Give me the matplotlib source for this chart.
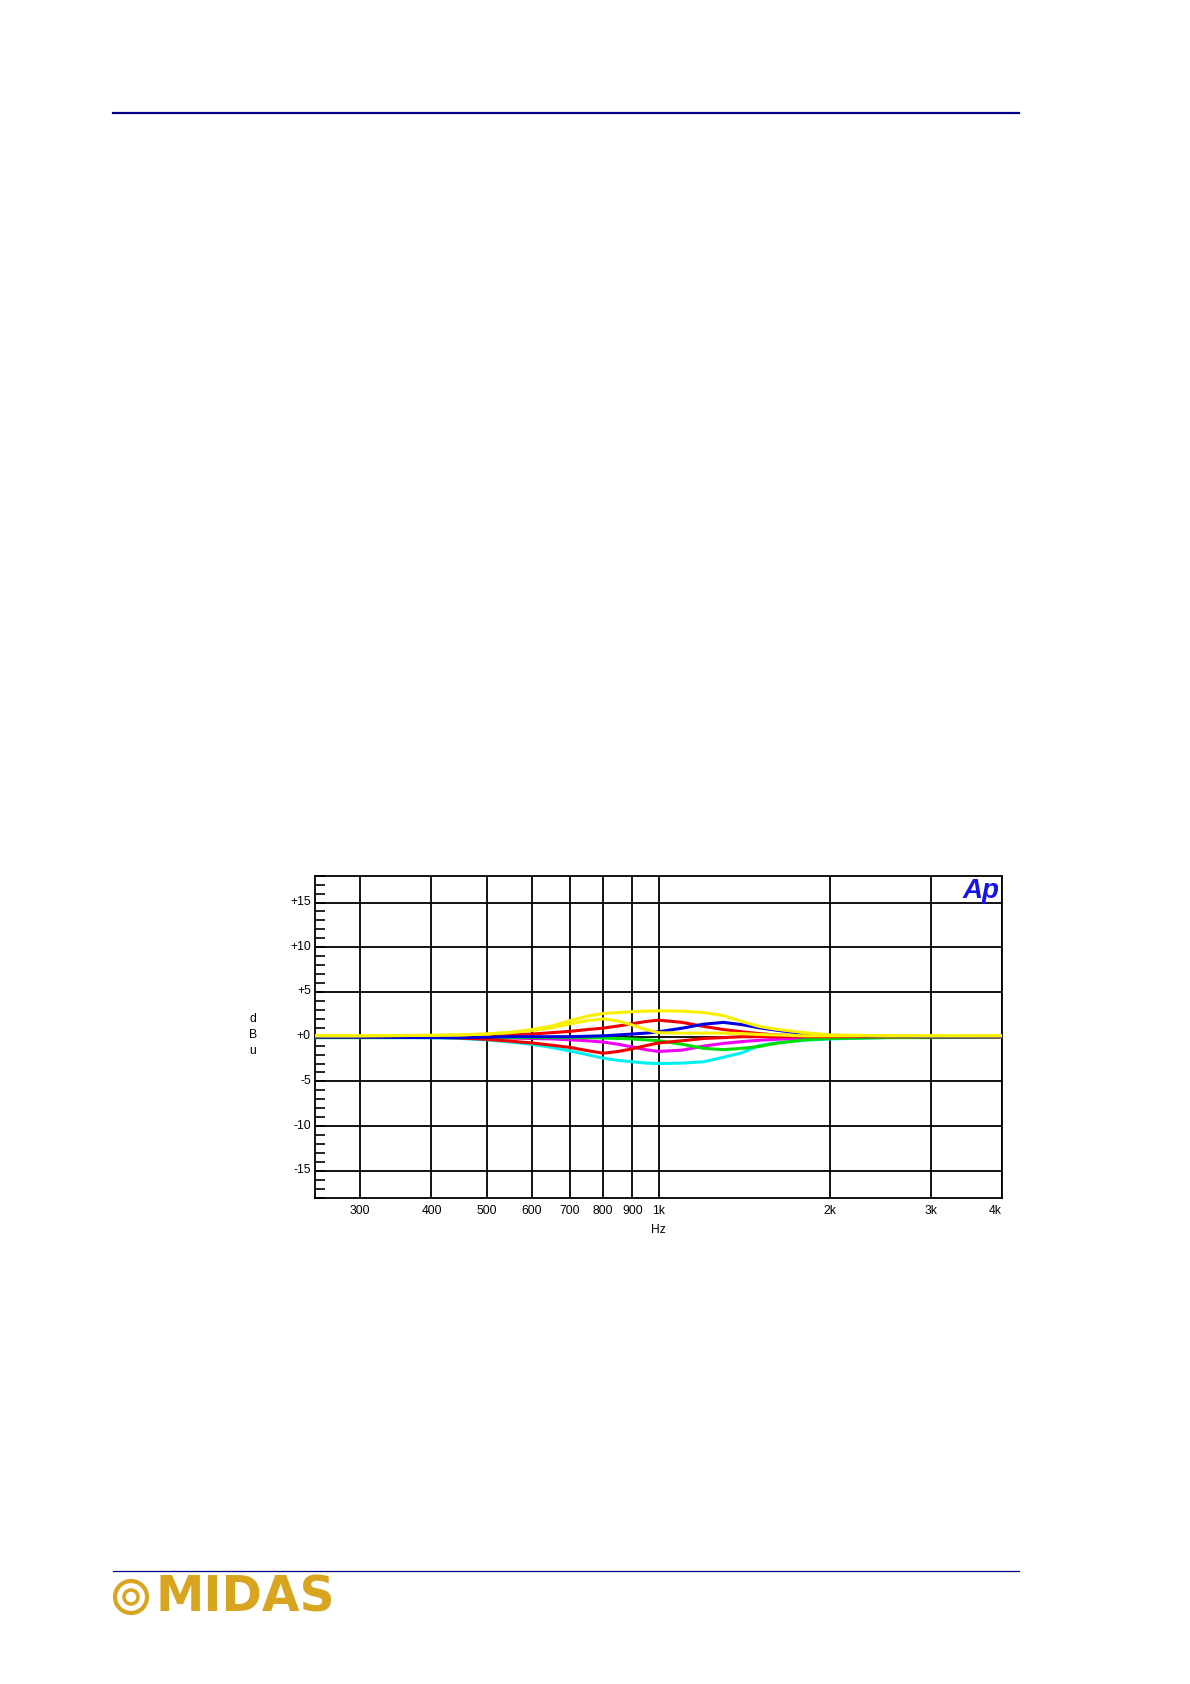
import matplotlib
matplotlib.use('Agg')
import matplotlib.pyplot as plt
import matplotlib.transforms as mtransforms
from matplotlib.ticker import MultipleLocator, NullLocator
from matplotlib.patches import Ellipse

plt.rcParams['font.family'] = ['Liberation Sans', 'DejaVu Sans']

# frequency points (Hz)
freq = [250, 300, 400, 450, 500, 550, 600, 650, 700, 750, 800, 850, 900, 950,
        1000, 1100, 1200, 1300, 1400, 1500, 1600, 1800, 2000, 2500, 3000, 4000]

# level in dBu for each curve
yellow_a = [0.1, 0.1, 0.15, 0.2, 0.3, 0.5, 0.8, 1.2, 1.8, 2.3, 2.6, 2.7, 2.8, 2.85,
            2.9, 2.85, 2.7, 2.35, 1.7, 1.15, 0.85, 0.45, 0.2, 0.1, 0.1, 0.1]
yellow_b = [0.1, 0.1, 0.15, 0.2, 0.3, 0.45, 0.7, 1.0, 1.45, 1.8, 2.0, 1.75, 1.3, 0.8,
            0.45, 0.4, 0.4, 0.4, 0.35, 0.25, 0.2, 0.1, 0.1, 0.1, 0.1, 0.1]
red_a = [0.0, 0.0, 0.0, 0.05, 0.1, 0.2, 0.3, 0.45, 0.6, 0.8, 0.96, 1.2, 1.45, 1.7,
         1.85, 1.6, 1.15, 0.8, 0.55, 0.35, 0.2, 0.1, 0.05, 0.0, 0.0, 0.0]
red_b = [0.0, 0.0, -0.05, -0.15, -0.3, -0.5, -0.7, -0.95, -1.2, -1.55, -1.85, -1.65, -1.35, -1.0,
         -0.7, -0.45, -0.2, -0.1, 0.0, 0.0, 0.0, 0.0, 0.0, 0.0, 0.0, 0.0]
blue = [-0.05, -0.05, -0.1, -0.1, -0.05, 0.0, 0.0, 0.0, 0.0, 0.05, 0.1, 0.2, 0.3, 0.4,
        0.55, 0.95, 1.4, 1.6, 1.35, 1.0, 0.75, 0.35, 0.15, 0.05, 0.0, 0.0]
magenta = [0.0, 0.0, -0.05, -0.05, -0.1, -0.15, -0.2, -0.25, -0.35, -0.45, -0.6, -0.85, -1.15, -1.45,
           -1.65, -1.5, -1.05, -0.75, -0.55, -0.4, -0.3, -0.15, -0.05, 0.0, 0.0, 0.0]
green = [-0.1, -0.1, -0.1, -0.1, -0.1, -0.1, -0.1, -0.1, -0.1, -0.1, -0.15, -0.2, -0.25, -0.35,
         -0.45, -0.85, -1.3, -1.45, -1.3, -1.1, -0.75, -0.35, -0.2, -0.1, -0.1, -0.05]
cyan = [-0.1, -0.1, -0.1, -0.2, -0.35, -0.6, -0.85, -1.2, -1.6, -2.0, -2.4, -2.65, -2.8, -2.95,
        -3.0, -2.95, -2.8, -2.3, -1.8, -1.0, -0.7, -0.4, -0.25, -0.1, -0.05, 0.0]

curves = [(cyan, '#00f0f0'), (magenta, '#f000f0'), (green, '#00e000'),
          (red_b, '#f00000'), (red_a, '#f00000'), (blue, '#0000e0'),
          (yellow_b, '#f8f000'), (yellow_a, '#f8f000')]

xticks = [300, 400, 500, 600, 700, 800, 900, 1000, 2000, 3000, 4000]
xlabels = ['300', '400', '500', '600', '700', '800', '900', '1k', '2k', '3k', '4k']
yticks = [-15, -10, -5, 0, 5, 10, 15]
ylabels = ['-15', '-10', '-5', '+0', '+5', '+10', '+15']

W, H = 1190, 1684
fig = plt.figure(figsize=(W/100, H/100), dpi=100)

# header / footer rules
fig.add_artist(plt.Line2D([113/W, 1019/W], [1-112.5/H]*2, color='#00008b', lw=1.6))
fig.add_artist(plt.Line2D([113/W, 1019/W], [1-1570.5/H]*2, color='#00008b', lw=0.9))

ax = fig.add_axes([315/W, 1-1197.7/H, 687/W, 322/H])
for y, c in curves:
    ax.plot(freq, y, color=c, lw=2.2, solid_capstyle='butt', zorder=3)

ax.set_xscale('log')
ax.set_xlim(250, 4000)
ax.set_ylim(-18, 18)
ax.set_xticks(xticks)
ax.set_xticklabels(xlabels)
ax.xaxis.set_minor_locator(NullLocator())
ax.set_yticks(yticks)
ax.set_yticklabels(ylabels)
ax.yaxis.set_minor_locator(MultipleLocator(1))
ax.tick_params(axis='x', which='both', length=0, pad=5, labelsize=8.7)
ax.tick_params(axis='y', which='both', direction='in', length=7, width=1.2, pad=3, labelsize=8.7)
ax.grid(True, which='major', color='black', lw=1.3, zorder=1)
for s in ax.spines.values():
    s.set_color('black')
    s.set_linewidth(1.3)
# y labels sit a little above their grid line
off = mtransforms.ScaledTranslation(0, 2/100, fig.dpi_scale_trans)
for lab in ax.get_yticklabels():
    lab.set_transform(lab.get_transform() + off)
ax.get_xticklabels()[-1].set_horizontalalignment('right')

ax.text(0.5, -0.1, 'Hz', transform=ax.transAxes, ha='center', va='center', fontsize=8.7)
for letter, yy in zip(['d', 'B', 'u'], [1019, 1034.5, 1050.5]):
    fig.text(253/W, 1-yy/H, letter, ha='center', va='center', fontsize=8.7)

# Ap logo
fig.text(981/W, 1-891/H, 'Ap', ha='center', va='center', fontsize=20,
         fontweight='bold', fontstyle='italic', color='#1414e6')

# MIDAS logo
gold = '#d9a520'
cx, cy = 131/W, 1-1597/H
for r, lw in [(16, 3), (7, 2.5)]:
    fig.add_artist(Ellipse((cx, cy), 2*r/W, 2*r/H, transform=fig.transFigure,
                           facecolor='none', edgecolor=gold, lw=lw))
fig.text(156/W, 1-1597/H, 'MIDAS', ha='left', va='center', fontsize=35,
         fontweight='bold', color=gold, family='DejaVu Sans')

fig.savefig('out.png', dpi=100)
